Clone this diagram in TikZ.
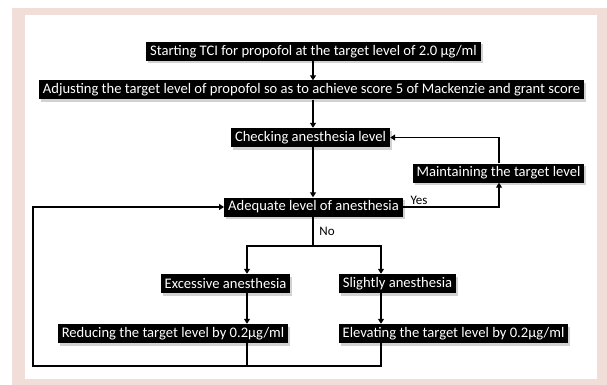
\documentclass[tikz,border=0pt]{standalone}
\usepackage{fontspec}
\setmainfont{Carlito}
\usetikzlibrary{arrows.meta,shadows}
\definecolor{framepink}{RGB}{242,222,216}
\begin{document}
\begin{tikzpicture}[x=1pt,y=-1pt,
  bx/.style={fill=black,text=white,font=\fontsize{14.6}{16}\selectfont,
    inner xsep=4pt,inner ysep=0pt,minimum height=19pt,
    drop shadow={shadow xshift=2pt,shadow yshift=-2.5pt,fill=gray!35,opacity=1}},
  lbl/.style={text=black,font=\fontsize{13}{15}\selectfont,inner sep=0pt},
  ln/.style={line width=1.8pt},
  ar/.style={line width=1.8pt,-{Triangle[length=5pt,width=6pt]}}]
\fill[white] (0,0) rectangle (607,385);
\fill[framepink] (12,8) rectangle (607,385);
\fill[white] (25,15) rectangle (597,379);
\useasboundingbox (0,0) rectangle (607,385);

\node[bx] (start) at (313.5,51.5) {Starting TCI for propofol at the target level of 2.0 µg/ml};
\node[bx] (adjust) at (311.5,90) {Adjusting the target level of propofol so as to achieve score 5 of Mackenzie and grant score};
\node[bx] (check) at (310.5,137.5) {Checking anesthesia level};
\node[bx] (maintain) at (498.5,173) {Maintaining the target level};
\node[bx] (adequate) at (313.5,207) {Adequate level of anesthesia};
\node[bx] (excess) at (225.5,283.5) {Excessive anesthesia};
\node[bx] (slight) at (397.5,283.5) {Slightly anesthesia};
\node[bx] (reduce) at (173,333.5) {Reducing the target level by 0.2µg/ml};
\node[bx] (elevate) at (453.5,333.5) {Elevating the target level by 0.2µg/ml};

\coordinate (sp) at (313,0);
\coordinate (lx) at (247,0);
\coordinate (rx) at (381,0);
\coordinate (mx) at (499,0);
\coordinate (split) at (313,246);
\coordinate (bot) at (33,366);

\draw[ar] (start.south -| sp) -- (adjust.north -| sp);
\draw[ar] (adjust.south -| sp) -- (check.north -| sp);
\draw[ar] (check.south -| sp) -- (adequate.north -| sp);
\draw[ar] (adequate.east) -- (adequate.east -| mx) -- (maintain.south -| mx);
\draw[ar] (maintain.north -| mx) |- (check.east);
\draw[ln] (adequate.south -| sp) -- (split);
\draw[ar] (split) -- (split -| lx) -- (excess.north -| lx);
\draw[ar] (split) -- (split -| rx) -- (slight.north -| rx);
\draw[ar] (excess.south -| lx) -- (reduce.north -| lx);
\draw[ar] (slight.south -| rx) -- (elevate.north -| rx);
\draw[ln] (reduce.south -| lx) -- (bot -| lx);
\draw[ar] (elevate.south -| rx) -- (bot -| rx) -- (bot) -- (bot |- adequate.west) -- (adequate.west);

\node[lbl] (yes) at (419,200) {Yes};
\node[lbl] (no) at (327,231) {No};
\end{tikzpicture}
\end{document}
